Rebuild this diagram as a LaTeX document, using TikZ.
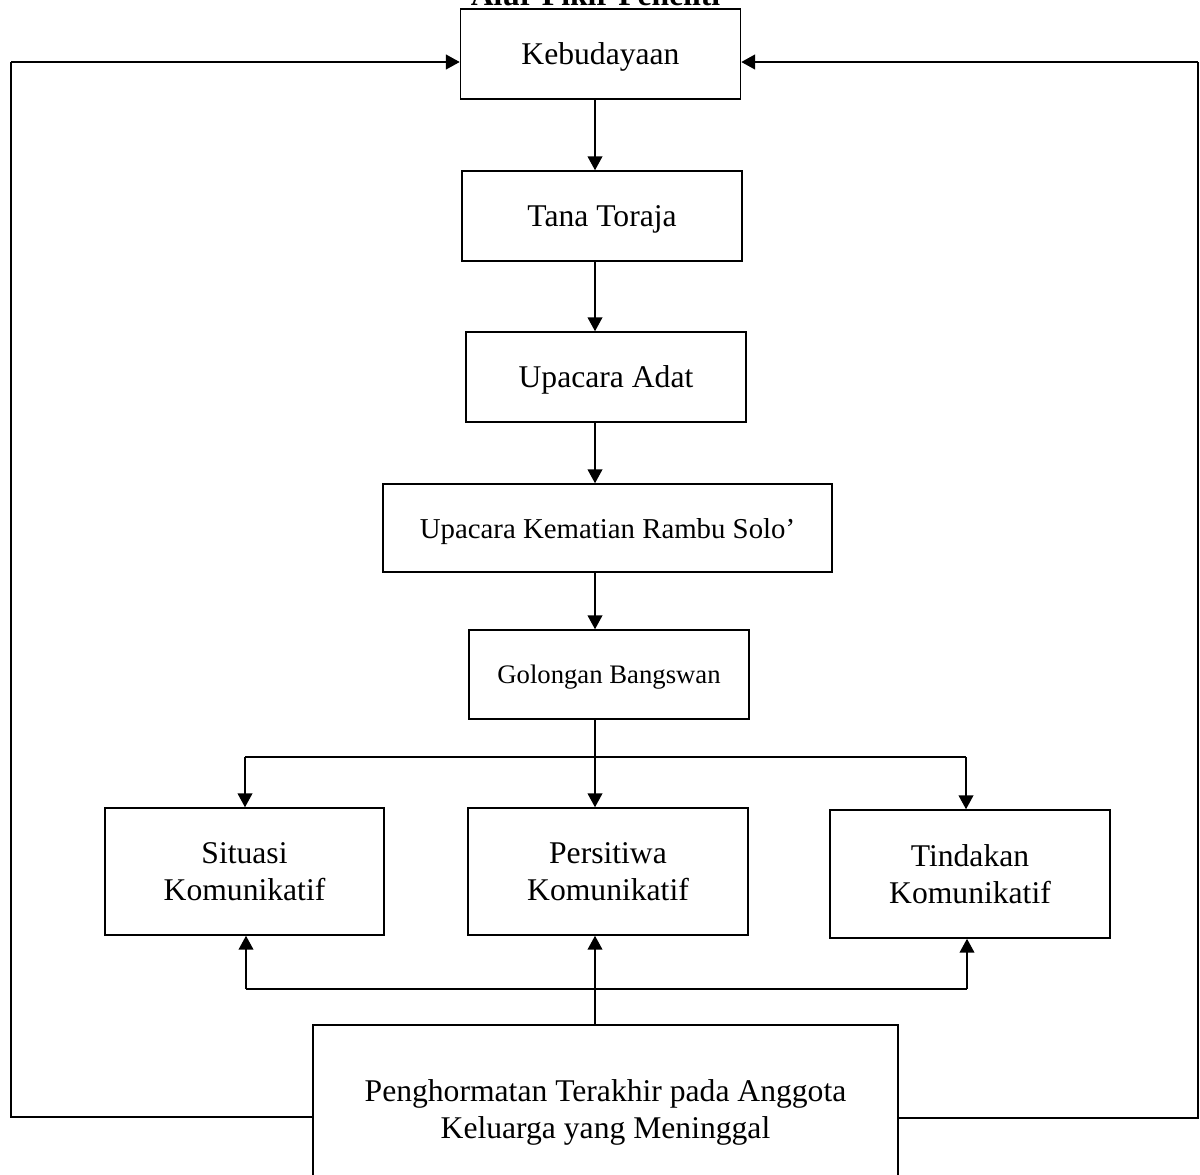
\documentclass[tikz,border=0pt]{standalone}
\usepackage{fontspec}
\setmainfont{Liberation Serif}
\usetikzlibrary{arrows.meta}

\begin{document}
\begin{tikzpicture}[x=0.02cm,y=-0.02cm,
  kotak/.style={rectangle,draw,line width=0.8pt,inner sep=0pt,align=center,text depth=0pt,minimum width=5.6cm,minimum height=1.8cm,font=\fontsize{18}{21}\selectfont},
  panah/.style={line width=1.4pt,-{Triangle[length=0.28cm,width=0.29cm]}},
  garis/.style={line width=0.7pt}]%
  \useasboundingbox (0,0) rectangle (1200,1174);
  \clip (0,0) rectangle (1200,1174);
  \node[anchor=base,font=\bfseries\fontsize{18}{21}\selectfont] (judul) at (595.5,5) {Alur Pikir Peneliti};

  \node[kotak] (keb) at (600.5,54) {Kebudayaan};
  \node[kotak] (tana) at (602,216) {Tana Toraja};
  \node[kotak] (adat) at (606,377) {Upacara Adat};
  \node[kotak,minimum width=8.98cm,minimum height=1.76cm,font=\fontsize{16.4}{19}\selectfont] (mati) at (607.5,528) {Upacara Kematian Rambu Solo’};
  \node[kotak,minimum height=1.78cm,font=\fontsize{15.2}{18}\selectfont] (gol) at (609,674.5) {Golongan Bangswan};
  \node[kotak,minimum width=5.58cm,minimum height=2.54cm] (sit) at (244.5,871.5) {Situasi\\Komunikatif};
  \node[kotak,minimum height=2.54cm] (per) at (608,871.5) {Persitiwa\\Komunikatif};
  \node[kotak,minimum height=2.56cm] (tin) at (970,874) {Tindakan\\Komunikatif};
  \node[kotak,minimum width=11.7cm,minimum height=3.36cm] (akhir) at (605.5,1109) {Penghormatan Terakhir pada Anggota\\Keluarga yang Meninggal};

  \coordinate (spine) at (595,0);
  \foreach \a/\b in {keb/tana,tana/adat,adat/mati,mati/gol,gol/per}
    \draw[panah] (\a.south -| spine) -- (\b.north -| spine);

  % cabang ke tiga kotak
  \coordinate (cabkiri) at (245,757);
  \coordinate (cabkanan) at (966,757);
  \draw[garis] (cabkiri) -- (cabkanan);
  \draw[panah] (cabkiri) -- (sit.north -| cabkiri);
  \draw[panah] (cabkanan) -- (tin.north -| cabkanan);

  % dari bawah ke atas
  \coordinate (gabkiri) at (246,989);
  \coordinate (gabkanan) at (967,989);
  \draw[garis] (gabkiri) -- (gabkanan);
  \draw[panah] (gabkiri) -- (sit.south -| gabkiri);
  \draw[panah] (gabkanan) -- (tin.south -| gabkanan);
  \draw[panah] (akhir.north -| spine) -- (per.south -| spine);

  % garis luar
  \coordinate (kiri) at (11,1117);
  \coordinate (kiriatas) at (11,62);
  \coordinate (kanan) at (1198,1118);
  \coordinate (kananatas) at (1198,62);
  \draw[garis] (akhir.west |- kiri) -- (kiri) -- (kiriatas);
  \draw[garis] (akhir.east |- kanan) -- (kanan) -- (kananatas);
  \draw[panah,line width=1.6pt] (kiriatas) -- (keb.west |- kiriatas);
  \draw[panah,line width=1.6pt] (kananatas) -- (keb.east |- kananatas);
\end{tikzpicture}
\end{document}
